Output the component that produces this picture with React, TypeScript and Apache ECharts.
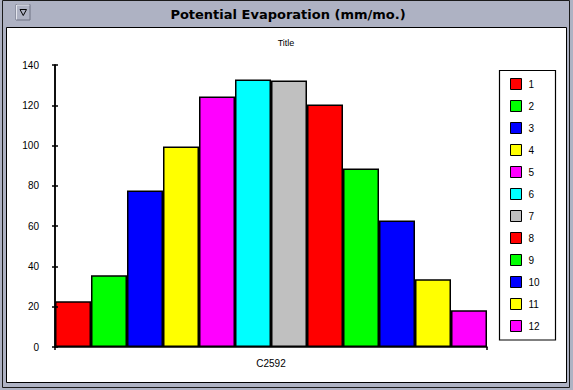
import React, { useEffect, useRef } from "react";
import * as echarts from "echarts";

const windowTitle = "Potential Evaporation (mm/mo.)";
const chartTitle = "Title";
const categories = ["C2592"];
const seriesNames = ["1", "2", "3", "4", "5", "6", "7", "8", "9", "10", "11", "12"];
const seriesValues = [22.7, 35.6, 77.7, 99.5, 124.3, 132.8, 132.3, 120.4, 88.6, 62.8, 33.6, 18.2];
const seriesColors = [
  "#ff0000", "#00ff00", "#0000ff", "#ffff00", "#ff00ff", "#00ffff",
  "#c0c0c0", "#ff0000", "#00ff00", "#0000ff", "#ffff00", "#ff00ff",
];
const yMin = 0;
const yMax = 140;
const yInterval = 20;

const FONT = "'Liberation Sans', Arial, sans-serif";

export default function App() {
  const ref = useRef<HTMLDivElement>(null);
  useEffect(() => {
    document.body.style.margin = "0";
    const chart = echarts.init(ref.current!, null, { renderer: "svg" });
    const frameGray = "#aeb2c3";
    const option: any = {
      animation: false,
      backgroundColor: frameGray,
      textStyle: { fontFamily: FONT },
      grid: { left: 55, right: 86, top: 65, bottom: 43, containLabel: false },
      xAxis: {
        type: "category",
        data: categories,
        boundaryGap: true,
        axisLine: { lineStyle: { color: "#000", width: 1.5 } },
        axisTick: { show: true, length: 3, lineStyle: { color: "#000", width: 1.5 } },
        axisLabel: { color: "#000", fontSize: 10, margin: 11, fontFamily: FONT },
        z: 5,
      },
      yAxis: [
        {
          type: "value",
          min: yMin,
          max: yMax,
          interval: yInterval,
          axisLine: { show: true, lineStyle: { color: "#000", width: 1.5 } },
          axisTick: { show: true, length: 3, lineStyle: { color: "#000", width: 1.5 } },
          axisLabel: { color: "#000", fontSize: 10, margin: 16, fontFamily: FONT },
          splitLine: { show: false },
          z: 5,
        },
        {
          type: "value",
          position: "left",
          min: yMin,
          max: yMax,
          interval: yInterval,
          axisLine: { show: true, lineStyle: { color: "#000", width: 1.5 } },
          axisTick: { show: true, inside: true, length: 3, lineStyle: { color: "#000", width: 1.5 } },
          axisLabel: { show: false },
          splitLine: { show: false },
          z: 5,
        },
      ],
      legend: {
        orient: "vertical",
        left: 510,
        top: 78,
        padding: 0,
        itemWidth: 11,
        itemHeight: 11,
        itemGap: 10,
        icon: "rect",
        selectedMode: false,
        itemStyle: { borderColor: "#000", borderWidth: 1 },
        textStyle: { color: "#000", fontSize: 10, lineHeight: 11, fontFamily: FONT, padding: [0, 0, 0, 2] },
        data: seriesNames,
      },
      series: seriesNames.map((name, i) => ({
        name,
        type: "bar",
        data: [seriesValues[i]],
        barGap: "0%",
        barCategoryGap: "0%",
        itemStyle: { color: seriesColors[i], borderColor: "#000", borderWidth: 1.5 },
      })),
      graphic: [
        {
          type: "rect",
          z: -10,
          silent: true,
          shape: { x: 2.5, y: 0.5, width: 567, height: 387 },
          style: { fill: frameGray, stroke: "#1a1a1a", lineWidth: 1 },
        },
        {
          type: "rect",
          z: -9,
          silent: true,
          shape: { x: 6.5, y: 27.5, width: 560, height: 355 },
          style: { fill: "#ffffff", stroke: "#000", lineWidth: 1 },
        },
        {
          type: "rect",
          z: -8,
          silent: true,
          shape: { x: 16, y: 4.5, width: 14, height: 15.5 },
          style: { fill: frameGray, stroke: "#6e7283", lineWidth: 1 },
        },
        {
          type: "polyline",
          z: -7,
          silent: true,
          shape: { points: [[16.5, 19.5], [16.5, 5], [29.5, 5]] },
          style: { stroke: "#e4e6ee", lineWidth: 1, fill: null },
        },
        {
          type: "polygon",
          z: -7,
          silent: true,
          shape: { points: [[20, 9.5], [26.5, 9.5], [23.25, 15.5]] },
          style: { fill: "none", stroke: "#000", lineWidth: 1 },
        },
        {
          type: "text",
          z: -7,
          silent: true,
          x: 288,
          y: 14.5,
          style: {
            text: windowTitle,
            fill: "#000",
            font: "bold 13px 'DejaVu Sans', sans-serif",
            textAlign: "center",
            textVerticalAlign: "middle",
          },
        },
        {
          type: "text",
          z: -7,
          silent: true,
          x: 286,
          y: 43,
          style: {
            text: chartTitle,
            fill: "#000",
            font: "9px " + FONT,
            textAlign: "center",
            textVerticalAlign: "middle",
          },
        },
        {
          type: "rect",
          z: -7,
          silent: true,
          shape: { x: 499.5, y: 70.5, width: 56, height: 269.5 },
          style: { fill: "none", stroke: "#000", lineWidth: 1.2 },
        },
      ],
    };
    chart.setOption(option);
    return () => chart.dispose();
  }, []);
  return (
    <div
      ref={ref}
      style={{ position: "fixed", left: 0, top: 0, width: 573, height: 390 }}
    />
  );
}
